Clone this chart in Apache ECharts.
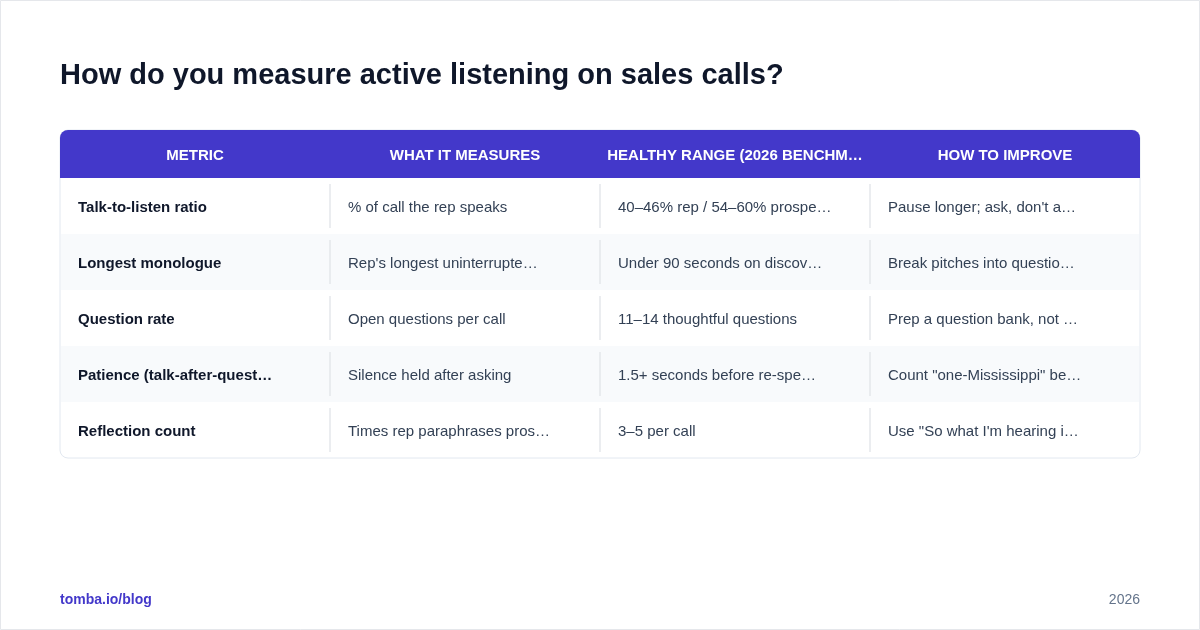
<!DOCTYPE html>
<html><head><meta charset="utf-8">
<script src="https://cdn.jsdelivr.net/npm/echarts@6/dist/echarts.min.js"></script>
<style>html,body{margin:0;padding:0;background:#fff}#c{width:1200px;height:630px}</style>
</head><body><div id="c"></div>
<script>
var title = 'How do you measure active listening on sales calls?';
var headers = ['METRIC', 'WHAT IT MEASURES', 'HEALTHY RANGE (2026 BENCHM…', 'HOW TO IMPROVE'];
var metrics = ['Talk-to-listen ratio', 'Longest monologue', 'Question rate', 'Patience (talk-after-quest…', 'Reflection count'];
var measures = ['% of call the rep speaks', 'Rep\'s longest uninterrupte…', 'Open questions per call', 'Silence held after asking', 'Times rep paraphrases pros…'];
var ranges = ['40–46% rep / 54–60% prospe…', 'Under 90 seconds on discov…', '11–14 thoughtful questions', '1.5+ seconds before re-spe…', '3–5 per call'];
var improve = ['Pause longer; ask, don\'t a…', 'Break pitches into questio…', 'Prep a question bank, not …', 'Count "one-Mississippi" be…', 'Use "So what I\'m hearing i…'];

var font = 'Liberation Sans, Arial, sans-serif';
var X0 = 60, Y0 = 130, W = 1080, HH = 48, RH = 56, CW = W / 4;
var cols = [metrics, measures, ranges, improve];
var g = [];
g.push({type: 'rect', shape: {x: 0.5, y: 0.5, width: 1199, height: 629}, style: {fill: '#fff', stroke: '#e5e7eb'}});
g.push({type: 'text', x: 60, y: 76, style: {text: title, font: 'bold 29px ' + font, fill: '#0f172a', textVerticalAlign: 'middle'}});
var TH = HH + RH * metrics.length;
g.push({type: 'rect', shape: {x: X0, y: Y0, width: W, height: TH, r: 8}, style: {fill: '#fff', stroke: '#e2e8f0', lineWidth: 1}});
g.push({type: 'rect', shape: {x: X0, y: Y0, width: W, height: HH, r: [8, 8, 0, 0]}, style: {fill: '#4338ca'}});
headers.forEach(function (h, i) {
  g.push({type: 'text', x: X0 + CW * i + CW / 2, y: Y0 + HH / 2 + 2, style: {text: h, font: 'bold 15px ' + font, fill: '#fff', textAlign: 'center', textVerticalAlign: 'middle'}});
});
metrics.forEach(function (m, r) {
  var y = Y0 + HH + RH * r;
  if (r % 2 === 1) g.push({type: 'rect', shape: {x: X0 + 1, y: y, width: W - 2, height: RH}, style: {fill: '#f8fafc'}});
  for (var c = 0; c < 4; c++) {
    if (c > 0) g.push({type: 'line', shape: {x1: X0 + CW * c, y1: y + 6, x2: X0 + CW * c, y2: y + RH - 6}, style: {stroke: '#e5e7eb', lineWidth: 1.5}});
    g.push({type: 'text', x: X0 + CW * c + 18, y: y + RH / 2 + 2, style: {text: cols[c][r], font: (c === 0 ? 'bold ' : '') + '15px ' + font, fill: c === 0 ? '#0f172a' : '#334155', textVerticalAlign: 'middle'}});
  }
});
g.push({type: 'text', x: 60, y: 600, style: {text: 'tomba.io/blog', font: 'bold 14px ' + font, fill: '#4338ca', textVerticalAlign: 'middle'}});
g.push({type: 'text', x: 1140, y: 600, style: {text: '2026', font: '14px ' + font, fill: '#64748b', textAlign: 'right', textVerticalAlign: 'middle'}});

var chart = echarts.init(document.getElementById('c'));
chart.setOption({animation: false, graphic: {elements: g}});
</script></body></html>
